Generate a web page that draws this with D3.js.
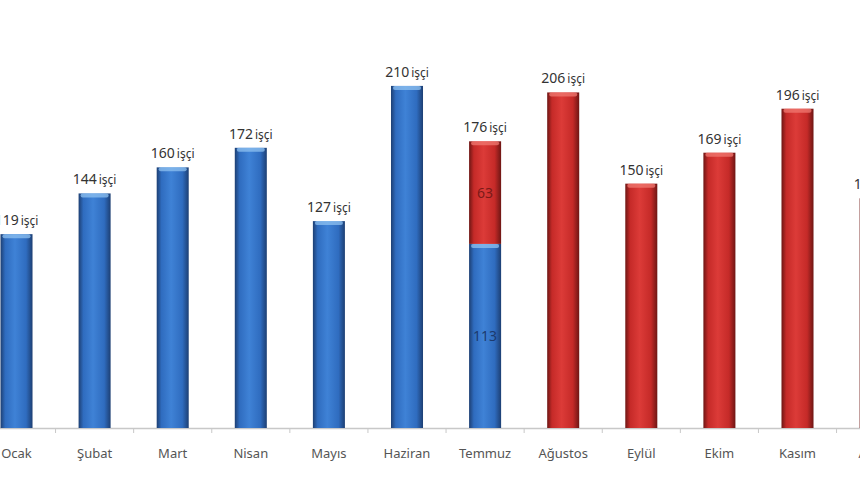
<!DOCTYPE html>
<html><head><meta charset="utf-8">
<script src="https://cdn.jsdelivr.net/npm/d3@7"></script>
<style>body{margin:0;background:#fff}svg{display:block}</style>
</head><body>
<svg id="c" width="860" height="480"></svg>
<script>
const months = ["Ocak","Şubat","Mart","Nisan","Mayıs","Haziran","Temmuz","Ağustos","Eylül","Ekim","Kasım","Aralık"];
const blueValues = [119,144,160,172,127,210,113,0,0,0,0,0];
const redValues  = [0,0,0,0,0,0,63,206,150,169,196,141];
const totals     = [119,144,160,172,127,210,176,206,150,169,196,141];
const unit = "işçi";

const svg = d3.select("#c");
const step = 78.1;
const c0 = 16.5;
const x = d3.scaleBand().domain(months).range([c0 - step/2, c0 - step/2 + 12*step]).paddingInner(0.59).paddingOuter(0.295);
const y = d3.scaleLinear().domain([0,250]).range([428, 428 - 250*1.629]);

const defs = svg.append("defs");
function grad(id, edge, mid, light){
  const g = defs.append("linearGradient").attr("id", id).attr("x1","0").attr("x2","1").attr("y1","0").attr("y2","0");
  g.append("stop").attr("offset","0%").attr("stop-color",edge);
  g.append("stop").attr("offset","15%").attr("stop-color",mid);
  g.append("stop").attr("offset","45%").attr("stop-color",light);
  g.append("stop").attr("offset","80%").attr("stop-color",mid);
  g.append("stop").attr("offset","100%").attr("stop-color",edge);
}
grad("gb","#1d3f73","#2f6cbf","#3f82d6");
grad("gr","#6e1614","#c52a28","#dc3b38");

// axis
svg.append("line").attr("x1",0).attr("x2",860).attr("y1",y(0)+0.5).attr("y2",y(0)+0.5).attr("stroke","#c8c8c8").attr("stroke-width",1.5);
const ticks = d3.range(13).map(i => x.range()[0] + i*x.step());
svg.selectAll(".tk").data(ticks).join("line").attr("x1",d=>d).attr("x2",d=>d).attr("y1",y(0)).attr("y2",y(0)+5).attr("stroke","#c8c8c8");

const bw = x.bandwidth();
function drawBars(vals, base, fill, topColor){
  const g = svg.append("g");
  months.forEach((m,i)=>{
    const v = vals[i]; if(!v) return;
    const b = base ? base[i] : 0;
    const y1 = y(b + v), y0 = y(b);
    g.append("rect").attr("x",x(m)).attr("y",y1).attr("width",bw).attr("height",y0-y1).attr("fill",`url(#${fill})`);
    g.append("rect").attr("x",x(m)+2).attr("y",y1).attr("width",bw-4).attr("height",4).attr("rx",2).attr("fill",topColor).attr("opacity",0.75);
  });
}
drawBars(blueValues, null, "gb", "#8fc1f0");
drawBars(redValues, blueValues, "gr", "#f07a72");

// segment labels for Temmuz
const ti = 6;
svg.append("text").attr("x",x(months[ti])+bw/2).attr("y",(y(0)+y(blueValues[ti]))/2+5).attr("text-anchor","middle")
  .attr("font-family","Noto Sans, sans-serif").attr("font-size",14).attr("fill","#1d3a6e").text(blueValues[ti]);
svg.append("text").attr("x",x(months[ti])+bw/2).attr("y",(y(blueValues[ti])+y(totals[ti]))/2+5).attr("text-anchor","middle")
  .attr("font-family","Noto Sans, sans-serif").attr("font-size",14).attr("fill","#7a1a18").text(redValues[ti]);

// total labels
months.forEach((m,i)=>{
  const t = svg.append("text").attr("x",x(m)+bw/2).attr("y",y(totals[i])-9).attr("text-anchor","middle")
    .attr("font-family","Noto Sans, sans-serif").attr("fill","#333");
  t.append("tspan").attr("font-size",14).text(totals[i]);
  t.append("tspan").attr("font-size",12).attr("dx",2).text(unit);
});

// category labels
svg.selectAll(".cat").data(months).join("text").attr("x",d=>x(d)+bw/2).attr("y",458).attr("text-anchor","middle")
  .attr("font-family","Noto Sans, sans-serif").attr("font-size",13).attr("fill","#555").text(d=>d);
</script>
</body></html>
